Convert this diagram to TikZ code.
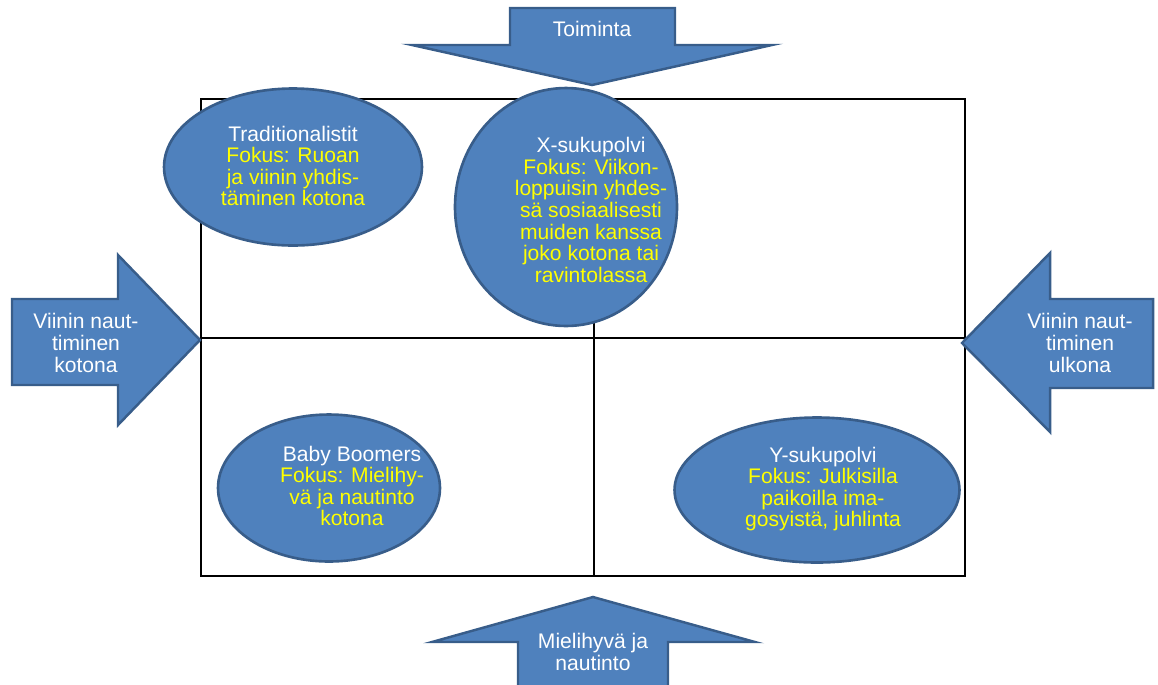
\documentclass[tikz,border=0pt]{standalone}
\usepackage{fontspec}
\setmainfont{Liberation Sans}
\usetikzlibrary{shapes.geometric}
\definecolor{sininen}{HTML}{4F81BD}
\definecolor{reuna}{HTML}{385D8A}
\definecolor{keltainen}{HTML}{FFFF00}

\begin{document}
\begin{tikzpicture}[x=0.02cm, y=-0.02cm,
    nuoli/.style={fill=sininen, draw=reuna, line width=1.4pt},
    pallo/.style={ellipse, fill=sininen, draw=reuna, line width=1.5pt, inner sep=0pt},
    teksti/.style={align=center, inner sep=0pt, text=white, font=\fontsize{12}{12.3}\selectfont},
    fokus/.style={teksti, text=keltainen}]
    \useasboundingbox (0,0) rectangle (1158,684);
    % Nelikenttä
    \draw[line width=0.8pt] (201,99) rectangle (965,576);
    \draw[line width=0.8pt] (201,338) -- (965,338);
    \draw[line width=0.8pt] (594,99) -- (594,576);
    % Sukupolvet
    \node[pallo, minimum width=5.16cm, minimum height=3.14cm] (trad) at (293,167) {};
    \node[pallo, minimum width=4.44cm, minimum height=4.76cm] (xsp) at (566,207) {};
    \node[pallo, minimum width=4.44cm, minimum height=2.94cm] (boom) at (329,488) {};
    \node[pallo, minimum width=5.70cm, minimum height=2.90cm] (ysp) at (817,490) {};
    \node[fokus] (tradt) at (293,166) {\textcolor{white}{Traditionalistit}\\ Fokus: Ruoan\\ ja viinin yhdis-\\ täminen kotona};
    \node[fokus] (xspt) at (591,210) {\textcolor{white}{X-sukupolvi}\\ Fokus: Viikon-\\ loppuisin yhdes-\\ sä sosiaalisesti\\ muiden kanssa\\ joko kotona tai\\ ravintolassa};
    \node[fokus] (boomt) at (352,486) {\textcolor{white}{Baby Boomers}\\ Fokus: Mielihy-\\ vä ja nautinto\\ kotona};
    \node[fokus] (yspt) at (823,489) {\textcolor{white}{Y-sukupolvi}\\ Fokus: Julkisilla\\ paikoilla ima-\\ gosyistä, juhlinta};
    % Nuolet
    \draw[nuoli] (510,8) -- (675,8) -- (675,45) -- (772,45) -- (592,85) -- (412,45) -- (510,45) -- cycle;
    \draw[nuoli] (12,299) -- (118,299) -- (118,255) -- (200,340) -- (118,425) -- (118,385) -- (12,385) -- cycle;
    \draw[nuoli] (1153,299) -- (1050,299) -- (1050,253) -- (962,343) -- (1050,432) -- (1050,388) -- (1153,388) -- cycle;
    \draw[nuoli] (593,597) -- (755,642) -- (668,642) -- (668,700) -- (518,700) -- (518,642) -- (432,642) -- cycle;
    \node[teksti] (toim) at (592,29) {Toiminta};
    \node[teksti] (koti) at (86,343) {Viinin naut-\\ timinen\\ kotona};
    \node[teksti] (ulko) at (1080,343) {Viinin naut-\\ timinen\\ ulkona};
    \node[teksti] (miel) at (593,652) {Mielihyvä ja\\ nautinto};
\end{tikzpicture}
\end{document}
